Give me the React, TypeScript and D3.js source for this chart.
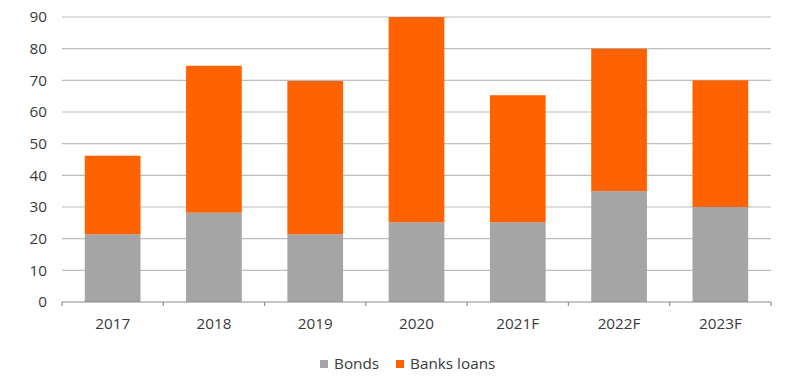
import React from "react";
import * as d3 from "d3";

const categories = ["2017", "2018", "2019", "2020", "2021F", "2022F", "2023F"];
const bonds = [21.4, 28.2, 21.4, 25.2, 25.2, 35, 30];
const bankLoans = [24.8, 46.4, 48.4, 64.8, 40.1, 45, 40];
const yTicks = [0, 10, 20, 30, 40, 50, 60, 70, 80, 90];
const seriesNames = ["Bonds", "Banks loans"];
const colors = ["#A5A5A5", "#FF6200"];

export default function App() {
  const W = 800, H = 389;
  const left = 62, right = 771, top = 17, bottom = 302;
  const x = d3.scaleBand<string>().domain(categories).range([left, right]).paddingInner(0.45).paddingOuter(0.225);
  const y = d3.scaleLinear().domain([0, 90]).range([bottom, top]);
  const rows = categories.map((c, i) => ({ cat: c, bonds: bonds[i], loans: bankLoans[i] }));
  const stack = d3.stack<any>().keys(["bonds", "loans"])(rows);
  const font = "'Open Sans', 'DejaVu Sans', sans-serif";
  const step = x.step();
  const boundaries = categories.map((_, i) => left + i * step).concat([right]);
  const fs = 15.3;

  return (
    <svg width={W} height={H} style={{ position: "absolute", left: 0, top: 0, background: "#fff" }} fontFamily={font}>
      {yTicks.map((t) => (
        <g key={t}>
          {t !== 0 && <line x1={left} x2={right} y1={y(t)} y2={y(t)} stroke="#BDBDBD" strokeWidth={1.2} />}
          <text x={47} y={y(t)} dy="0.35em" textAnchor="end" fontSize={fs} fill="#3A3A3A">{t}</text>
        </g>
      ))}
      {stack.map((s, si) => (
        <g key={si} fill={colors[si]}>
          {s.map((d, i) => (
            <rect key={i} x={x(categories[i])} width={x.bandwidth()} y={y(d[1])} height={y(d[0]) - y(d[1])} />
          ))}
        </g>
      ))}
      <line x1={left} x2={right} y1={bottom} y2={bottom} stroke="#8C8C8C" strokeWidth={1.2} />
      {boundaries.map((b, i) => (
        <line key={i} x1={b} x2={b} y1={bottom} y2={bottom + 4} stroke="#8C8C8C" strokeWidth={1.2} />
      ))}
      {categories.map((c) => (
        <text key={c} x={(x(c) as number) + x.bandwidth() / 2} y={324} dy="0.35em" textAnchor="middle" fontSize={fs} fill="#3A3A3A">{c}</text>
      ))}
      <g>
        <rect x={320} y={360} width={8} height={8} fill={colors[0]} />
        <text x={334} y={364} dy="0.35em" fontSize={fs} fill="#3A3A3A">{seriesNames[0]}</text>
        <rect x={396} y={360} width={8} height={8} fill={colors[1]} />
        <text x={410} y={364} dy="0.35em" fontSize={fs} fill="#3A3A3A">{seriesNames[1]}</text>
      </g>
    </svg>
  );
}
